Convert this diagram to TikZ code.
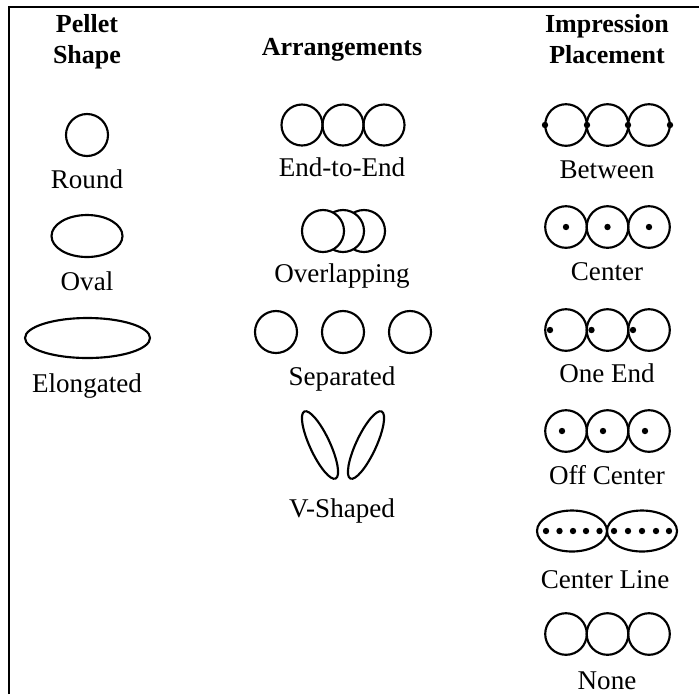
\documentclass[tikz,border=0pt]{standalone}
\usepackage{fontspec}
\setmainfont{Liberation Serif}
\usepackage{tikz}
\usetikzlibrary{positioning,calc}

\tikzset{
    pellet/.style={line width=1.6pt},
    lbl/.style={anchor=base, inner sep=0pt, font=\fontsize{20.3}{24}\selectfont},
    head/.style={anchor=base, inner sep=0pt, font=\fontsize{19.5}{23.5}\selectfont\bfseries},
    imp/.style={fill=black}
}

\begin{document}
\begin{tikzpicture}[x=0.75pt, y=-0.75pt]
    \useasboundingbox (0,0) rectangle (699,694);

    % Frame
    \draw[line width=1.5pt] (9,694) -- (9,7) -- (699,7);

    % Headings
    \node[head] (hpellet) at (87,32) {Pellet};
    \node[head] (hshape) at (87,63) {Shape};
    \node[head] (harr) at (342,55) {Arrangements};
    \node[head] (himp) at (607,32) {Impression};
    \node[head] (hplace) at (607,63) {Placement};

    % Pellet shapes
    \draw[pellet] (87,135) circle (21);
    \node[lbl] (round) at (87,188) {Round};
    \draw[pellet] (87,236) ellipse [x radius=35.5, y radius=21];
    \node[lbl] (oval) at (87,290) {Oval};
    \draw[pellet] (87.5,338) ellipse [x radius=62.5, y radius=20];
    \node[lbl] (elong) at (87,392) {Elongated};

    % End-to-end
    \foreach \x in {302,343,384} {
        \draw[pellet] (\x,125) circle (20.5);
    }
    \node[lbl] (ete) at (342,176) {End-to-End};

    % Overlapping, drawn back to front
    \foreach \x in {364,343,323} {
        \draw[pellet, fill=white] (\x,231) circle (21);
    }
    \node[lbl] (overlap) at (342,282) {Overlapping};

    % Separated
    \foreach \x in {276,343,410} {
        \draw[pellet] (\x,332) circle (21);
    }
    \node[lbl] (sep) at (342,385) {Separated};

    % V-shaped
    \draw[pellet, rotate around={25:(320,445)}] (320,445) ellipse [x radius=10, y radius=37];
    \draw[pellet, rotate around={-25:(366,445)}] (366,445) ellipse [x radius=10, y radius=37];
    \node[lbl] (vshape) at (342,517) {V-Shaped};

    % Impression placement rows
    \foreach \y in {125,227,330,431,634} {
        \foreach \x in {566,607.5,649} {
            \draw[pellet] (\x,\y) circle (20.8);
        }
    }

    % Between
    \foreach \x in {545,587,628,670} {
        \fill[imp] (\x,125) circle (3.2);
    }
    \node[lbl] (between) at (607,178) {Between};

    % Center
    \foreach \x in {566,607.5,649} {
        \fill[imp] (\x,227) circle (3.2);
    }
    \node[lbl] (center) at (607,280) {Center};

    % One end
    \foreach \x in {550,591.5,633} {
        \fill[imp] (\x,330) circle (3.2);
    }
    \node[lbl] (oneend) at (607,382) {One End};

    % Off center
    \foreach \x in {562,603,645} {
        \fill[imp] (\x,431) circle (3.2);
    }
    \node[lbl] (offc) at (607,484) {Off Center};

    % Center line
    \draw[pellet] (572,531) ellipse [x radius=35, y radius=20.5];
    \draw[pellet] (642,531) ellipse [x radius=35, y radius=20.5];
    \foreach \x in {546,559.5,573,586,599.5,614,628,642,656,669} {
        \fill[imp] (\x,531) circle (3.2);
    }
    \node[lbl] (cline) at (605,588) {Center Line};

    % None
    \node[lbl] (none) at (607,689) {None};
\end{tikzpicture}
\end{document}
